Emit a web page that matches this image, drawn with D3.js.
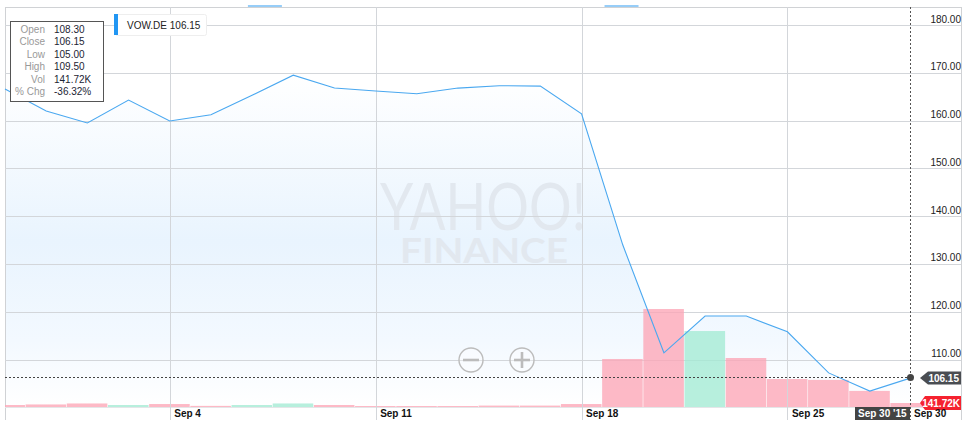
<html lang="en">
    <head>
        <meta charset="utf-8">
        <title>VOW.DE</title>
        <style>
            body { margin: 0; background-color: white; }
            svg { display: block; }
            text { font-family: "Liberation Sans", Arial, sans-serif; font-size: 10px; }
            .grid line { stroke: #d3d6da; stroke-width: 1; shape-rendering: crispEdges; }
            .grid path { display: none; }
            .x-axis text { font-weight: bold; fill: #111; }
            .y-axis text { fill: #222; }
        </style>
    </head>
    <body>
    <script src="https://cdnjs.cloudflare.com/ajax/libs/d3/7.8.5/d3.min.js"></script>
    <script>
// values
var dates = ["Aug 31","Sep 1","Sep 2","Sep 3","Sep 4","Sep 7","Sep 8","Sep 9","Sep 10","Sep 11","Sep 14","Sep 15","Sep 16","Sep 17","Sep 18","Sep 21","Sep 22","Sep 23","Sep 24","Sep 25","Sep 28","Sep 29","Sep 30"];
var closes = [166.6,162,159.5,164.3,159.9,161.2,165.3,169.5,166.8,166.2,165.6,166.8,167.3,167.2,161.4,134,111.4,119.1,119.1,115.8,107.2,103.4,106.15];
var volumes = [70,90,125,70,105,40,70,125,70,35,35,35,50,50,105,1700,3470,2690,1735,990,960,570,141.72];
var directions = ["down","down","down","up","down","down","up","up","down","down","down","down","down","down","down","down","down","up","down","down","down","down","down"];
var priceTicks = [110,120,130,140,150,160,170,180];
var dateTicks = ["Sep 4","Sep 11","Sep 18","Sep 25"];
var quoteLabels = ["Open","Close","Low","High","Vol","% Chg"];
var quoteValues = ["108.30","106.15","105.00","109.50","141.72K","-36.32%"];
var ticker = "VOW.DE";

var fullWidth = 970, fullHeight = 435;
var plot = {left: 5, right: 961, top: 7, base: 407, bottom: 420};

var xScale = d3.scalePoint().domain(dates).range([5, 911]);
var yScale = d3.scaleLinear().domain([110, 180]).range([359.5, 25]);
var volScale = d3.scaleLinear().domain([0, 3470]).range([plot.base, 309]);
var barWidth = xScale.step();

var svg = d3.select("body").append("svg")
    .attr("width", fullWidth)
    .attr("height", fullHeight);

var defs = svg.append("defs");
var grad = defs.append("linearGradient")
    .attr("id", "areaFill")
    .attr("gradientUnits", "userSpaceOnUse")
    .attr("x1", 0).attr("x2", 0).attr("y1", 75).attr("y2", 407);
grad.append("stop").attr("offset", "0").attr("stop-color", "#ffffff");
grad.append("stop").attr("offset", "0.5").attr("stop-color", "#e9f4fe");
grad.append("stop").attr("offset", "0.8").attr("stop-color", "#f3f9ff");
grad.append("stop").attr("offset", "1").attr("stop-color", "#ffffff");

defs.append("clipPath").attr("id", "plotClip").append("rect")
    .attr("x", plot.left).attr("y", plot.top)
    .attr("width", plot.right - plot.left).attr("height", plot.bottom - plot.top);

// area first, the grid sits on top of it
var area = d3.area()
    .x(function(d, i) { return xScale(dates[i]); })
    .y0(plot.base)
    .y1(function(d) { return yScale(d); });
svg.append("path").datum(closes).attr("d", area).attr("fill", "url(#areaFill)");

// frame
svg.append("path")
    .attr("d", "M" + plot.left + "," + plot.bottom + "V" + plot.top + "H" + plot.right + "V" + plot.bottom)
    .attr("fill", "none").attr("stroke", "#d0d2d5").attr("shape-rendering", "crispEdges");

// watermark
svg.append("text").attr("x", 380).attr("y", 230).text("YAHOO!")
    .attr("textLength", 206).attr("lengthAdjust", "spacingAndGlyphs")
    .style("font-family", "Lato").style("font-weight", 400).style("font-size", "66px")
    .attr("fill", "#e2e8ef");
svg.append("text").attr("x", 400).attr("y", 263).text("FINANCE")
    .attr("textLength", 168).attr("lengthAdjust", "spacingAndGlyphs")
    .style("font-family", "Lato").style("font-weight", 700).style("font-size", "35px")
    .attr("fill", "#e2e8ef");

// grid + y labels
var yAxis = d3.axisLeft(yScale)
    .tickValues(priceTicks)
    .tickSize(plot.right - plot.left)
    .tickFormat(function(d) { return d3.format(".2f")(d); });
var yG = svg.append("g").attr("class", "grid y-axis")
    .attr("transform", "translate(" + plot.right + ",0)")
    .call(yAxis);
yG.selectAll("text").attr("x", 0).attr("dy", "-3").attr("text-anchor", "end");

svg.append("line").attr("x1", plot.left).attr("x2", plot.right)
    .attr("y1", plot.base + 0.5).attr("y2", plot.base + 0.5)
    .attr("stroke", "#e4e6e8");

// volume bars
svg.append("g").attr("clip-path", "url(#plotClip)")
    .selectAll(".bar")
    .data(volumes).enter()
    .append("rect").attr("class", "bar")
    .attr("x", function(d, i) { return xScale(dates[i]) - barWidth / 2; })
    .attr("width", barWidth - 0.6)
    .attr("y", function(d) { return volScale(d); })
    .attr("height", function(d) { return plot.base - volScale(d); })
    .attr("fill", function(d, i) { return directions[i] == "up" ? "#a3ebd3" : "#fca5b6"; })
    .attr("fill-opacity", 0.78);

// date axis
var xAxis = d3.axisBottom(xScale)
    .tickValues(dateTicks)
    .tickSize(plot.bottom - plot.top);
var xG = svg.append("g").attr("class", "grid x-axis")
    .attr("transform", "translate(0," + plot.top + ")")
    .call(xAxis);
xG.selectAll("text")
    .attr("x", 4).attr("y", plot.bottom - plot.top - 3)
    .attr("dy", 0).attr("text-anchor", "start");

// price line
var line = d3.line()
    .x(function(d, i) { return xScale(dates[i]); })
    .y(function(d) { return yScale(d); });
svg.append("path").datum(closes).attr("d", line)
    .attr("fill", "none").attr("stroke", "#4aa8f0").attr("stroke-width", 1.1);

// top markers
svg.append("line").attr("x1", xScale("Sep 7") + 37).attr("x2", xScale("Sep 7") + 71)
    .attr("y1", 6).attr("y2", 6).attr("stroke", "#2e9bf0");
svg.append("line").attr("x1", xScale("Sep 18") + 23).attr("x2", xScale("Sep 18") + 57)
    .attr("y1", 6).attr("y2", 6).attr("stroke", "#2e9bf0");

// crosshair
var lastX = xScale(dates[dates.length - 1]) - 0.5;
var lastY = Math.floor(yScale(closes[closes.length - 1])) + 0.5;
svg.append("line").attr("x1", plot.left).attr("x2", lastX).attr("y1", lastY).attr("y2", lastY)
    .attr("stroke", "#444").attr("stroke-dasharray", "2,2");
svg.append("line").attr("x1", lastX).attr("x2", lastX).attr("y1", plot.top).attr("y2", plot.bottom)
    .attr("stroke", "#555").attr("stroke-dasharray", "2,2");
svg.append("circle").attr("cx", lastX).attr("cy", lastY).attr("r", 3.5).attr("fill", "#444");

// price tag
var tagY = Math.round(lastY);
svg.append("path")
    .attr("d", "M920," + tagY + "L928," + (tagY - 6.5) + "H961V" + (tagY + 6.5) + "H928Z")
    .attr("fill", "#4a4d52");
svg.append("text").attr("x", 959).attr("y", tagY + 3.5).attr("text-anchor", "end")
    .attr("fill", "white").style("font-weight", "bold").text(d3.format(".2f")(closes[closes.length - 1]));

// volume tag
svg.append("path")
    .attr("d", "M920,403L925,396H961V410H925Z")
    .attr("fill", "#f5222f");
svg.append("text").attr("x", 960).attr("y", 406.5).attr("text-anchor", "end")
    .attr("fill", "white").style("font-weight", "bold").text(volumes[volumes.length - 1] + "K");

// date tag
svg.append("rect").attr("x", 855).attr("y", 407).attr("width", 55).attr("height", 13).attr("fill", "#444");
svg.append("text").attr("x", 858).attr("y", 417).attr("fill", "white")
    .style("font-weight", "bold").text("Sep 30 '15");
svg.append("text").attr("x", 914).attr("y", 417).attr("fill", "#111")
    .style("font-weight", "bold").text("Sep 30");

// zoom buttons
[471, 522].forEach(function(cx, i) {
    var g = svg.append("g").attr("transform", "translate(" + cx + ",360)")
        .attr("fill", "none").attr("stroke", "#bcbcbc");
    g.append("circle").attr("r", 12).attr("stroke-width", 1.4).attr("fill", "white").attr("fill-opacity", 0.3);
    g.append("line").attr("x1", -8).attr("x2", 8).attr("stroke-width", 2.6);
    if (i == 1) g.append("line").attr("y1", -8).attr("y2", 8).attr("stroke-width", 2.6);
});

// legend
svg.append("rect").attr("x", 115.5).attr("y", 14.5).attr("width", 91).attr("height", 21)
    .attr("rx", 2).attr("fill", "white").attr("stroke", "#eeeeee");
svg.append("rect").attr("x", 114).attr("y", 14).attr("width", 4).attr("height", 21).attr("fill", "#2196f3");
svg.append("text").attr("x", 127).attr("y", 28.5).attr("fill", "#222")
    .text(ticker + " " + d3.format(".2f")(closes[closes.length - 1]));

// quote box
svg.append("rect").attr("x", 10.5).attr("y", 21.5).attr("width", 93).attr("height", 80)
    .attr("fill", "white").attr("stroke", "#555");
var quoteY = d3.scalePoint().domain(quoteLabels).range([33, 95]);
svg.selectAll(".qLabel").data(quoteLabels).enter().append("text")
    .attr("x", 45).attr("y", function(d) { return quoteY(d); })
    .attr("text-anchor", "end").attr("fill", "#999").text(function(d) { return d; });
svg.selectAll(".qValue").data(quoteValues).enter().append("text")
    .attr("x", 54).attr("y", function(d, i) { return quoteY(quoteLabels[i]); })
    .attr("fill", "#1c2433").text(function(d) { return d; });
    </script>
    </body>
</html>
